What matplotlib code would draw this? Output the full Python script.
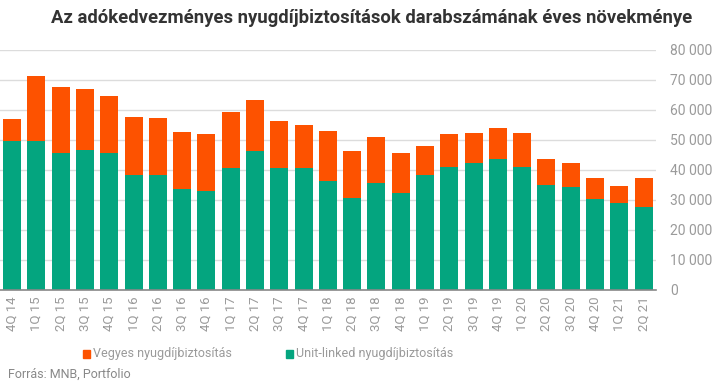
import matplotlib
matplotlib.use("Agg")
import matplotlib.pyplot as plt
import numpy as np
from matplotlib.ticker import FuncFormatter
from matplotlib.patches import Rectangle

categories = ["4Q 14", "1Q 15", "2Q 15", "3Q 15", "4Q 15", "1Q 16", "2Q 16", "3Q 16", "4Q 16",
              "1Q 17", "2Q 17", "3Q 17", "4Q 17", "1Q 18", "2Q 18", "3Q 18", "4Q 18",
              "1Q 19", "2Q 19", "3Q 19", "4Q 19", "1Q 20", "2Q 20", "3Q 20", "4Q 20", "1Q 21", "2Q 21"]
total = [57100, 71400, 67800, 67100, 64800, 57700, 57400, 52700, 52100,
         59400, 63400, 56400, 55100, 53100, 46400, 51100, 45700,
         48100, 52100, 52400, 54100, 52400, 43700, 42400, 37400, 34700, 37400]
unit_linked = [49500, 49500, 45700, 46800, 45500, 38200, 38200, 33500, 33000,
               40800, 46400, 40800, 40800, 36400, 30800, 35700, 32200,
               38200, 41000, 42200, 43700, 41000, 35000, 34400, 30400, 29000, 27700]
vegyes = [t - u for t, u in zip(total, unit_linked)]

orange = "#FD5200"
green = "#04A57F"
gray = "#9a9a9a"

plt.rcParams['font.family'] = ['Roboto', 'DejaVu Sans']

fig = plt.figure(figsize=(7.19, 3.84), dpi=100)
ax = fig.add_axes([0.0, 0.245, 0.912, 0.625])

x = np.arange(len(categories))
ax.bar(x, unit_linked, width=0.74, color=green, zorder=3)
ax.bar(x, vegyes, bottom=unit_linked, width=0.74, color=orange, zorder=3)

ax.set_xlim(-0.5, len(categories) - 0.5)
ax.set_ylim(0, 80000)
ax.set_yticks(np.arange(0, 80001, 10000))
ax.yaxis.set_major_formatter(FuncFormatter(lambda v, p: f"{int(v):,}".replace(",", " ")))
ax.yaxis.tick_right()
ax.tick_params(axis='y', length=0, pad=10.5, labelsize=10, labelcolor=gray)
ax.grid(axis='y', color="#dcdcdc", linewidth=1, zorder=0)

ax.set_xticks(x)
ax.set_xticklabels(categories, rotation=90, fontsize=9.5, color=gray)
ax.tick_params(axis='x', length=0, pad=5)

for s in ['top', 'right', 'left']:
    ax.spines[s].set_visible(False)
ax.spines['bottom'].set_color("#888888")
ax.spines['bottom'].set_linewidth(1.2)
ax.spines['bottom'].set_zorder(4)

fig.text(372 / 719, 0.953, "Az adókedvezményes nyugdíjbiztosítások darabszámának éves növekménye",
         ha='center', va='center', fontsize=13.3, fontweight='bold', color="#333333")

# legend
fig.patches.append(Rectangle((83 / 719, 1 - 358 / 384), 7 / 719, 8 / 384, transform=fig.transFigure,
                             color=orange, figure=fig))
fig.text(93 / 719, 1 - 353 / 384, "Vegyes nyugdíjbiztosítás", ha='left', va='center', fontsize=9, color=gray)
fig.patches.append(Rectangle((286 / 719, 1 - 358 / 384), 7 / 719, 8 / 384, transform=fig.transFigure,
                             color=green, figure=fig))
fig.text(296 / 719, 1 - 353 / 384, "Unit-linked nyugdíjbiztosítás", ha='left', va='center', fontsize=9, color=gray)

fig.text(8 / 719, 1 - 374 / 384, "Forrás: MNB, Portfolio", ha='left', va='center', fontsize=9, color="#888888")

fig.savefig("out.png", dpi=100)
